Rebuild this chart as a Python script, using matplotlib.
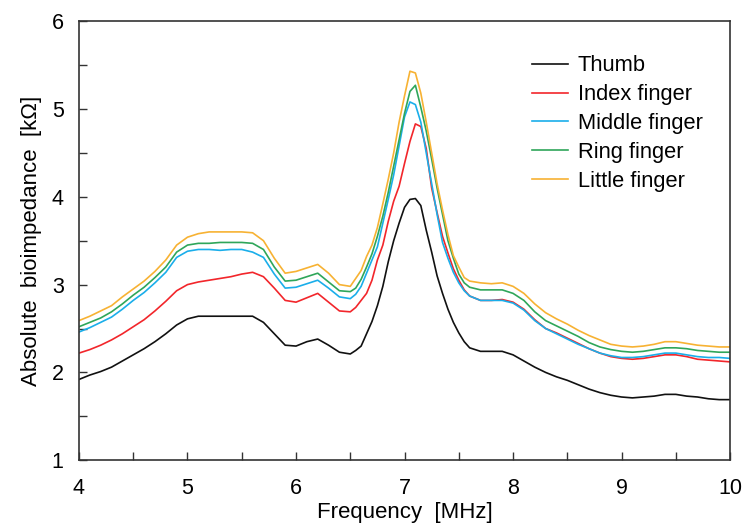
import matplotlib
matplotlib.use("Agg")
import matplotlib.pyplot as plt

plt.rcParams['font.family'] = ['Liberation Sans', 'DejaVu Sans']

freq = [4.0, 4.1, 4.2, 4.3, 4.4, 4.5, 4.6, 4.7, 4.8, 4.9,
        5.0, 5.1, 5.2, 5.3, 5.4, 5.5, 5.6, 5.7, 5.8, 5.9,
        6.0, 6.1, 6.2, 6.3, 6.4, 6.5, 6.55, 6.6, 6.65, 6.7,
        6.75, 6.8, 6.85, 6.9, 6.95, 7.0, 7.05, 7.1, 7.15, 7.2,
        7.25, 7.3, 7.35, 7.4, 7.45, 7.5, 7.55, 7.6, 7.7, 7.8,
        7.9, 8.0, 8.1, 8.2, 8.3, 8.4, 8.5, 8.6, 8.7, 8.8,
        8.9, 9.0, 9.1, 9.2, 9.3, 9.4, 9.5, 9.6, 9.7, 9.8,
        9.9, 10.0]

thumb = [1.92, 1.97, 2.01, 2.06, 2.13, 2.20, 2.27, 2.35, 2.44, 2.54,
         2.61, 2.64, 2.64, 2.64, 2.64, 2.64, 2.64, 2.57, 2.44, 2.31,
         2.30, 2.35, 2.38, 2.31, 2.23, 2.21, 2.25, 2.30, 2.44, 2.58,
         2.76, 2.98, 3.26, 3.50, 3.70, 3.88, 3.97, 3.98, 3.90, 3.62,
         3.37, 3.10, 2.90, 2.72, 2.57, 2.45, 2.35, 2.28, 2.24, 2.24,
         2.24, 2.20, 2.13, 2.06, 2.00, 1.95, 1.91, 1.86, 1.81, 1.77,
         1.74, 1.72, 1.71, 1.72, 1.73, 1.75, 1.75, 1.73, 1.72, 1.70,
         1.69, 1.69]

index = [2.22, 2.26, 2.31, 2.37, 2.44, 2.52, 2.60, 2.70, 2.81, 2.93,
         3.00, 3.03, 3.05, 3.07, 3.09, 3.12, 3.14, 3.09, 2.96, 2.82,
         2.80, 2.85, 2.90, 2.80, 2.70, 2.69, 2.74, 2.82, 2.90, 3.05,
         3.28, 3.45, 3.72, 3.95, 4.12, 4.38, 4.63, 4.83, 4.80, 4.55,
         4.10, 3.82, 3.55, 3.36, 3.18, 3.05, 2.94, 2.87, 2.82, 2.82,
         2.83, 2.80, 2.72, 2.60, 2.50, 2.45, 2.39, 2.33, 2.27, 2.22,
         2.18, 2.16, 2.15, 2.16, 2.18, 2.20, 2.20, 2.18, 2.15, 2.14,
         2.13, 2.12]

middle = [2.46, 2.51, 2.57, 2.63, 2.72, 2.82, 2.91, 3.02, 3.14, 3.31,
          3.38, 3.40, 3.40, 3.39, 3.40, 3.40, 3.37, 3.31, 3.12, 2.96,
          2.97, 3.01, 3.05, 2.96, 2.86, 2.84, 2.89, 2.98, 3.13, 3.28,
          3.43, 3.70, 3.97, 4.25, 4.58, 4.91, 5.08, 5.05, 4.85, 4.50,
          4.15, 3.80, 3.48, 3.30, 3.14, 3.02, 2.93, 2.87, 2.82, 2.82,
          2.82, 2.79, 2.71, 2.59, 2.50, 2.44, 2.38, 2.32, 2.27, 2.22,
          2.19, 2.17, 2.17, 2.18, 2.20, 2.22, 2.22, 2.20, 2.18, 2.17,
          2.17, 2.16]

ring = [2.52, 2.57, 2.62, 2.69, 2.78, 2.88, 2.97, 3.08, 3.20, 3.37,
        3.45, 3.47, 3.47, 3.48, 3.48, 3.48, 3.47, 3.40, 3.20, 3.04,
        3.05, 3.09, 3.13, 3.03, 2.93, 2.92, 2.96, 3.06, 3.20, 3.35,
        3.55, 3.78, 4.05, 4.35, 4.65, 4.95, 5.20, 5.27, 5.02, 4.75,
        4.43, 4.10, 3.80, 3.50, 3.30, 3.12, 3.02, 2.97, 2.94, 2.94,
        2.94, 2.90, 2.82, 2.69, 2.59, 2.53, 2.47, 2.41, 2.34, 2.29,
        2.26, 2.24, 2.23, 2.24, 2.26, 2.28, 2.28, 2.27, 2.25, 2.24,
        2.23, 2.23]

little = [2.59, 2.64, 2.70, 2.76, 2.86, 2.95, 3.04, 3.15, 3.28, 3.45,
          3.54, 3.58, 3.60, 3.60, 3.60, 3.60, 3.59, 3.50, 3.30, 3.13,
          3.15, 3.19, 3.23, 3.13, 3.00, 2.98, 3.07, 3.16, 3.32, 3.45,
          3.65, 3.92, 4.20, 4.50, 4.85, 5.15, 5.43, 5.41, 5.18, 4.85,
          4.50, 4.15, 3.85, 3.57, 3.33, 3.20, 3.08, 3.04, 3.02, 3.01,
          3.02, 2.98, 2.90, 2.78, 2.68, 2.61, 2.55, 2.48, 2.42, 2.37,
          2.32, 2.30, 2.29, 2.30, 2.32, 2.35, 2.35, 2.33, 2.31, 2.30,
          2.29, 2.29]

labels = ['Thumb', 'Index finger', 'Middle finger', 'Ring finger', 'Little finger']
colors = ['#111111', '#f2262b', '#1aaeea', '#2fa65a', '#f7b233']

fig = plt.figure(figsize=(7.45, 5.29), dpi=100)
ax = fig.add_axes([0.106, 0.130, 0.874, 0.830])

for series, lab, col in zip([thumb, index, middle, ring, little], labels, colors):
    ax.plot(freq, series, color=col, lw=1.2, label=lab)

ax.set_xlim(4, 10)
ax.set_ylim(1, 6)
ax.set_xticks([4, 5, 6, 7, 8, 9, 10])
ax.set_xticks([4.5, 5.5, 6.5, 7.5, 8.5, 9.5], minor=True)
ax.set_yticks([1, 2, 3, 4, 5, 6])
ax.set_yticks([1.5, 2.5, 3.5, 4.5, 5.5], minor=True)
ax.tick_params(which='both', direction='in', length=6, width=1.0,
               colors='#333333', labelcolor='black', top=False, right=False)
ax.tick_params(axis='x', which='major', pad=13, labelsize=15.5)
ax.tick_params(axis='y', which='major', pad=11, labelsize=15.5)
for s in ax.spines.values():
    s.set_color('#333333')
    s.set_linewidth(1.2)

ax.set_xlabel('Frequency  [MHz]', fontsize=16, labelpad=2)
ax.set_ylabel('Absolute  bioimpedance  [k\u03a9]', fontsize=16, labelpad=7)

ax.legend(loc='upper left', bbox_to_anchor=(0.679, 0.947), frameon=False,
          fontsize=15.75, borderpad=0, labelspacing=0.36, handlelength=1.65,
          handletextpad=0.45)

fig.savefig('out.png', dpi=100)
